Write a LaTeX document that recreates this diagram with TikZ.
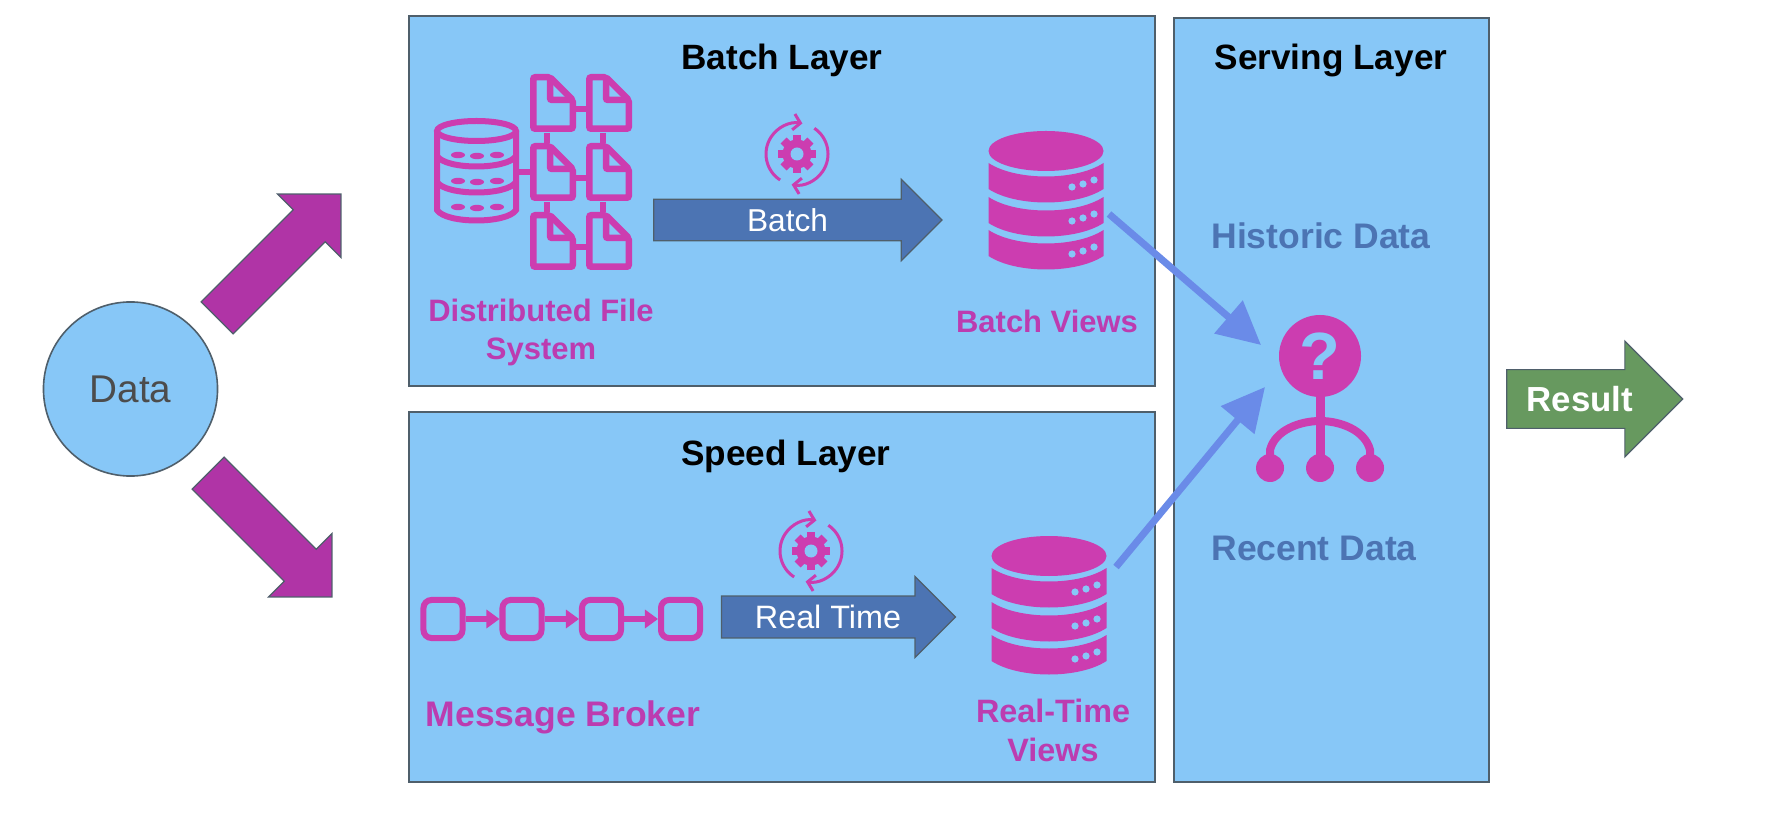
\documentclass[tikz,border=0pt]{standalone}
\usepackage{fontspec}
\setmainfont{Liberation Sans}
\usepackage{xcolor}
\usetikzlibrary{arrows.meta,shapes.arrows}

\definecolor{layerblue}{HTML}{87C7F7}
\definecolor{edgegray}{HTML}{4F5F6B}
\definecolor{iconpink}{HTML}{CC3DB0}
\definecolor{labelpink}{HTML}{BC3CB0}
\definecolor{dataviolet}{HTML}{B034A6}
\definecolor{flowblue}{HTML}{4C74B3}
\definecolor{linkblue}{HTML}{6A8BE8}
\definecolor{resultgreen}{HTML}{67995F}

\tikzset{
  layerbox/.style={draw=edgegray, line width=0.016cm, fill=layerblue},
  layertitle/.style={font=\fontsize{10}{12}\selectfont\bfseries, text=black, inner sep=0pt},
  iconlabel/.style={font=\fontsize{#1}{#1}\selectfont\bfseries, text=labelpink, inner sep=0pt},
  servelabel/.style={font=\fontsize{10.1}{12}\selectfont\bfseries, text=flowblue, inner sep=0pt},
  blockarrow/.style={single arrow, draw=edgegray, line width=0.012cm, inner xsep=0pt},
  brokercell/.style={draw=iconpink, line width=0.06cm, rounded corners=0.08cm, minimum width=0.39cm, minimum height=0.38cm, inner sep=0pt},
  linkarrow/.style={draw=linkblue, line width=0.07cm, -{Triangle[length=0.43cm, width=0.42cm]}},
  % Solid database stack
  pics/viewstack/.style={code={
    \fill[iconpink] (0, 0) ellipse (57.5 and 20);
    \foreach \y in {12, 46, 79} {
      \fill[iconpink] (-57.5, \y) .. controls (-30, \y+18) and (30, \y+18) .. (57.5, \y)
        -- (57.5, \y+26) .. controls (30, \y+44) and (-30, \y+44) .. (-57.5, \y+26) -- cycle;
      \fill[layerblue] (26, \y+24) circle (3.6) (37, \y+21) circle (3.6) (48, \y+17) circle (3.6);
    }
  }},
  % Gear with two turning arrows
  pics/gearcycle/.style={code={
    \foreach \a in {0, 45, ..., 315} {
      \draw[iconpink, line width=0.085cm] (0, 0) -- (\a:19);
    }
    \fill[iconpink] (0, 0) circle (14.5);
    \fill[layerblue] (0, 0) circle (6.5);
    \draw[iconpink, line width=0.03cm, -{Straight Barb[length=0.07cm, width=0.16cm]}] (123:31) arc[start angle=123, end angle=280, radius=31];
    \draw[iconpink, line width=0.03cm, -{Straight Barb[length=0.07cm, width=0.16cm]}] (-56:31) arc[start angle=-56, end angle=100, radius=31];
  }},
  % Sheet with a folded corner
  pics/filesheet/.style={code={
    \draw[iconpink, line width=0.065cm, rounded corners=0.02cm] (3.25, 3.25) -- (20, 3.25) -- (42.75, 26) -- (42.75, 54.75) -- (3.25, 54.75) -- cycle;
    \draw[iconpink, line width=0.065cm, rounded corners=0.02cm] (20, 3.25) -- (20, 26) -- (42.75, 26);
  }}
}

\begin{document}
\begin{tikzpicture}[x=0.01cm, y=-0.01cm]
\useasboundingbox (0, 0) rectangle (1786, 828);

% Layer boxes
\draw[layerbox] (409, 16) rectangle (1155, 386);
\draw[layerbox] (409, 412) rectangle (1155, 782);
\draw[layerbox] (1174, 18) rectangle (1489, 782);
\node[layertitle] (batchtitle) at (782, 60.5) {Batch Layer};
\node[layertitle] (speedtitle) at (786, 456.5) {Speed Layer};
\node[layertitle] (servingtitle) at (1331, 60.5) {Serving Layer};

% Incoming data
\node[circle, draw=edgegray, line width=0.016cm, fill=layerblue, minimum size=1.74cm, inner sep=0pt, text=black!70, font=\fontsize{11}{12}\selectfont] (data) at (130.5, 389) {Data};
\node[blockarrow, fill=dataviolet, inner ysep=0.22cm, minimum height=1.75cm, minimum width=0.886cm, rotate=45, single arrow head extend=0.222cm] (tobatch) at (271, 264) {};
\node[blockarrow, fill=dataviolet, inner ysep=0.22cm, minimum height=1.75cm, minimum width=0.886cm, rotate=-45, single arrow head extend=0.222cm] (tospeed) at (262, 527) {};

% Distributed file system
\draw[iconpink, line width=0.06cm] (437, 131) -- (437, 210) .. controls (446, 224) and (507, 224) .. (516, 210) -- (516, 131);
\draw[iconpink, line width=0.06cm] (476.5, 131) ellipse (39.5 and 10);
\foreach \y in {155, 181} {
  \draw[iconpink, line width=0.06cm] (437, \y+1) .. controls (446, \y+15) and (507, \y+15) .. (516, \y+1);
}
\foreach \y in {155, 181, 207} {
  \fill[iconpink] (458, \y) ellipse (7 and 3.2) (477, \y+1) ellipse (7 and 3.2) (497, \y) ellipse (7 and 3.2);
}
\foreach \x in {530, 586} {
  \foreach \y in {74, 143, 212} {
    \pic at (\x, \y) {filesheet};
    \draw[iconpink, line width=0.065cm] (576, \y+35) -- (586, \y+35);
  }
  \draw[iconpink, line width=0.065cm] (\x+17, 133) -- (\x+17, 143) (\x+17, 202) -- (\x+17, 212);
}
\draw[iconpink, line width=0.06cm] (516, 172) -- (530, 172);
\node[iconlabel=8.8] (dfsa) at (541, 310) {Distributed File};
\node[iconlabel=8.8] (dfsb) at (541, 352) {System};

% Batch path
\pic at (797, 154) {gearcycle};
\node[blockarrow, fill=flowblue, inner ysep=0.085cm, minimum height=2.88cm, minimum width=0.8cm, single arrow head extend=0.2cm, text=white, font=\fontsize{9}{10}\selectfont] (batchflow) at (787.5, 220) {Batch};
\pic at (1046, 151) {viewstack};
\node[iconlabel=8.8] (batchviews) at (1047, 321) {Batch Views};

% Message broker
\foreach \x [count=\i] in {443, 522, 601.5, 680.5} {
  \node[brokercell] (cell\i) at (\x, 619) {};
}
\foreach \i/\j in {1/2, 2/3, 3/4} {
  \draw[iconpink, line width=0.06cm, -{Triangle[length=0.13cm, width=0.18cm]}] (cell\i) -- (cell\j);
}
\node[iconlabel=10.1] (brokerlabel) at (563, 717) {Message Broker};

% Speed path
\pic at (811, 551) {gearcycle};
\node[blockarrow, fill=flowblue, inner ysep=0.085cm, minimum height=2.34cm, minimum width=0.79cm, single arrow head extend=0.195cm, text=white, font=\fontsize{9.2}{10}\selectfont] (speedflow) at (828, 617) {Real Time};
\pic at (1049, 556) {viewstack};
\node[iconlabel=9.2] (rtviewsa) at (1053, 711) {Real-Time};
\node[iconlabel=9.2] (rtviewsb) at (1053, 750) {Views};

% Query icon
\fill[iconpink] (1320, 356) circle (41);
\node[font=\fontsize{19}{20}\selectfont\bfseries, text=layerblue, inner sep=0pt] (query) at (1320, 356) {?};
\draw[iconpink, line width=0.09cm] (1320, 390) -- (1320, 468);
\draw[iconpink, line width=0.08cm] (1270, 468) -- (1270, 450) .. controls (1275, 430) and (1300, 421) .. (1320, 421) .. controls (1340, 421) and (1365, 430) .. (1370, 450) -- (1370, 468);
\foreach \x in {1270, 1320, 1370} {
  \fill[iconpink] (\x, 468) circle (14);
}
\node[servelabel] (historic) at (1321, 236) {Historic Data};
\node[servelabel] (recent) at (1314, 548) {Recent Data};

% Links into the serving layer
\coordinate (batchout) at (1109, 214);
\coordinate (speedout) at (1116, 567);
\coordinate (queryleft) at (1261, 345);
\coordinate (querylow) at (1265, 387);
\draw[linkarrow] (batchout) -- (queryleft);
\draw[linkarrow] (speedout) -- (querylow);

% Result
\node[blockarrow, fill=resultgreen, inner ysep=0.16cm, minimum height=1.76cm, minimum width=1.14cm, single arrow head extend=0.285cm, text=white, font=\fontsize{9.9}{12}\selectfont\bfseries] (result) at (1580, 399) {Result};

\end{tikzpicture}
\end{document}
